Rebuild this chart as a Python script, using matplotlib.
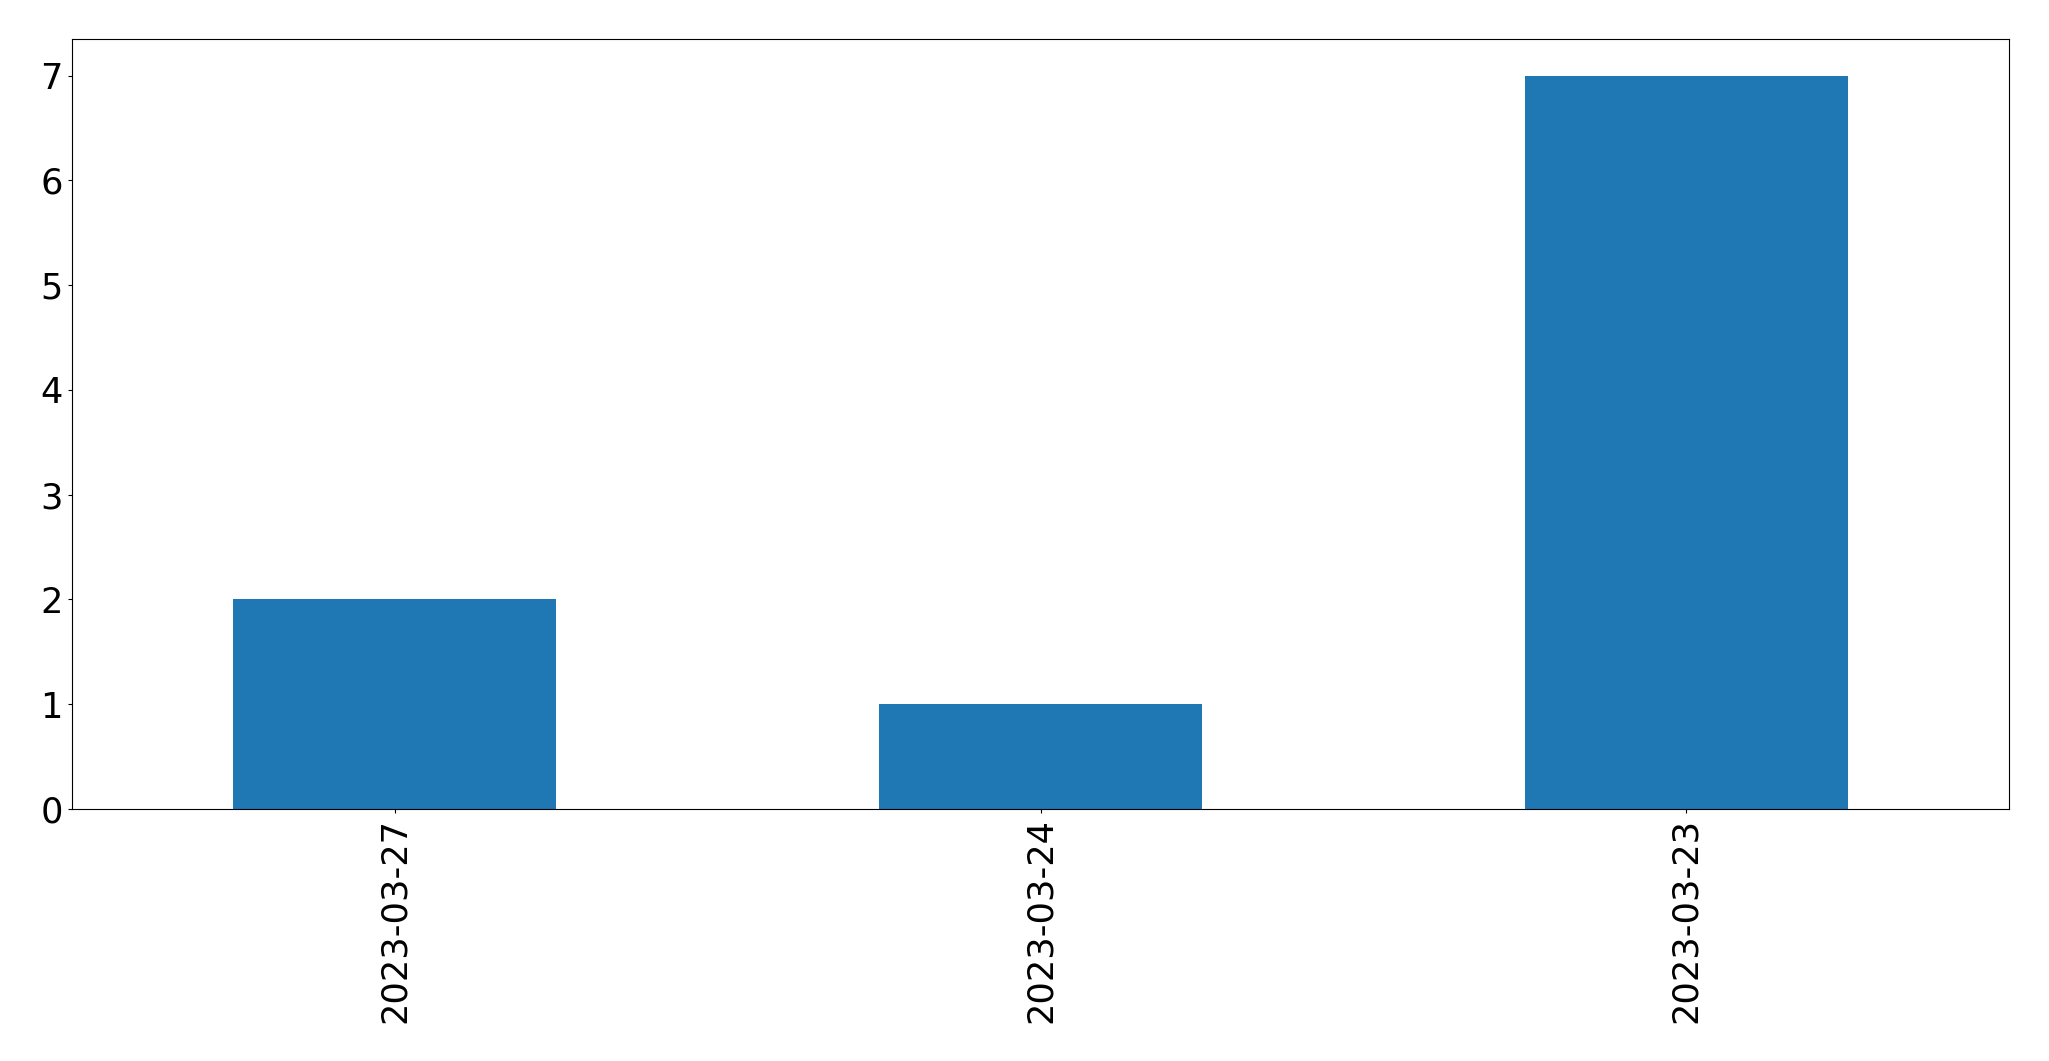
import matplotlib
matplotlib.use("Agg")
import matplotlib.pyplot as plt

dates = ["2023-03-27", "2023-03-24", "2023-03-23"]
counts = [2, 1, 7]

fig = plt.figure(figsize=(20.49, 10.61), dpi=100)
ax = fig.add_axes([72/2049, 1 - 809/1061, (2009-72)/2049, (809-39)/1061])
x = list(range(len(dates)))
ax.bar(x, counts, width=0.5, color="#1f77b4", linewidth=0)
ax.set_xlim(-0.5, len(dates) - 0.5)
ax.set_ylim(0, max(counts) * 1.05)
ax.set_xticks(x)
ax.set_xticklabels(dates, rotation=90)
ax.tick_params(labelsize=25.3, length=3.1, width=0.8)
for s in ax.spines.values():
    s.set_linewidth(0.8)
fig.savefig("out.png", dpi=100)
